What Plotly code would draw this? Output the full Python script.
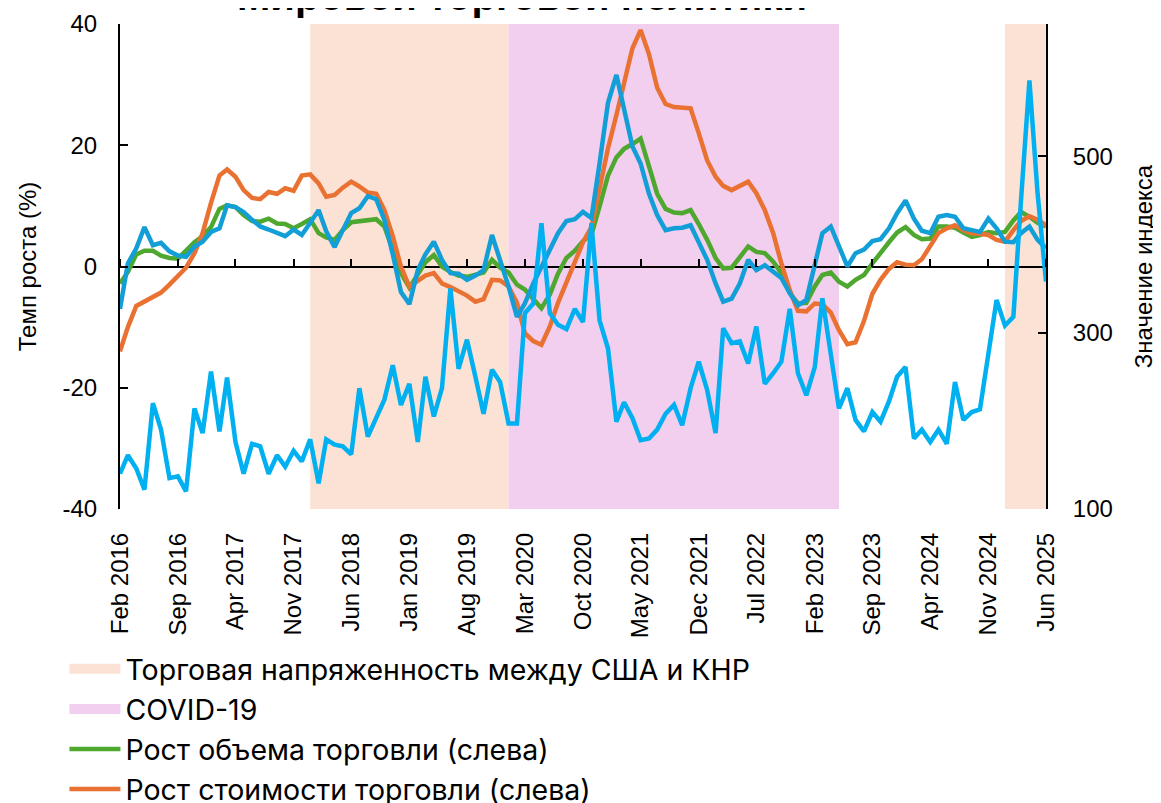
import pandas as pd
import plotly.graph_objects as go

# monthly, Feb 2016 .. Jun 2025
months = pd.date_range("2016-02-01", "2025-06-01", freq="MS")

# trade volume growth, % (left axis)
volume_growth = [
    -2.8, -0.9, 2.0, 2.6, 2.6, 1.8, 1.4, 1.3, 2.6, 4.0,
    5.0, 6.5, 9.5, 10.1, 9.8, 8.5, 7.5, 7.4, 7.9, 7.1,
    7.0, 6.3, 7.0, 7.8, 5.5, 4.8, 4.4, 6.0, 7.3, 7.5,
    7.6, 7.8, 6.6, 2.7, -1.1, -3.5, -1.2, 0.7, 1.9, 0.0,
    -0.9, -1.5, -1.7, -1.4, -1.0, 1.1, -0.2, -1.0, -3.0, -3.8,
    -5.5, -6.9, -4.6, -1.2, 1.4, 2.6, 4.2, 5.2, 9.9, 15.0,
    18.0, 19.4, 20.2, 21.1, 16.5, 12.0, 9.5, 8.9, 8.8, 9.3,
    7.0, 4.4, 1.4, -0.3, -0.2, 1.5, 3.3, 2.4, 2.2, 0.8,
    -1.1, -4.4, -6.1, -6.0, -3.3, -1.4, -1.0, -2.5, -3.3, -2.2,
    -1.4, 0.5, 2.3, 4.0, 5.6, 6.5, 5.2, 4.5, 4.6, 6.6,
    6.6, 6.4, 5.6, 4.9, 5.2, 5.7, 5.5, 5.7, 7.6, 9.0,
    8.2, 7.2, 6.6,
]

# trade value growth, % (left axis)
value_growth = [
    -14.0, -10.0, -6.5, -5.8, -5.2, -4.3, -3.0, -1.7, -0.2, 2.2,
    5.5, 10.5, 15.0, 16.0, 14.8, 12.6, 11.3, 11.1, 12.3, 12.0,
    12.9, 12.5, 15.0, 15.2, 13.7, 11.5, 11.8, 13.0, 14.0, 13.2,
    12.2, 12.0, 9.3, 5.0, 0.0, -3.3, -2.4, -1.5, -1.1, -2.8,
    -3.4, -4.1, -4.8, -5.8, -5.4, -2.2, -2.3, -3.3, -6.0, -11.0,
    -12.3, -12.9, -9.9, -6.0, -2.5, 1.0, 4.0, 6.5, 13.0, 19.5,
    25.0, 30.5, 36.0, 39.0, 35.0, 29.5, 26.8, 26.3, 26.2, 26.1,
    22.0, 17.5, 14.8, 13.3, 12.6, 13.3, 14.0, 12.1, 9.3, 5.5,
    0.5, -3.9, -7.3, -7.4, -6.1, -6.2, -7.6, -10.5, -12.8, -12.5,
    -9.0, -4.5, -2.2, -0.4, 0.7, 0.3, 0.2, 1.2, 3.5, 5.5,
    6.3, 6.8, 6.0, 5.5, 5.4, 5.2, 4.4, 4.1, 6.0, 7.5,
    8.3, 7.7, 6.8,
]

# third growth series, % (left axis)
blue_growth = [
    -7.0, 0.5, 3.0, 6.5, 3.5, 3.9, 2.5, 1.8, 1.6, 3.3,
    4.1, 5.7, 6.3, 10.1, 9.8, 9.0, 7.7, 6.6, 6.1, 5.5,
    5.0, 6.1, 5.2, 7.2, 9.3, 5.8, 3.2, 6.0, 8.8, 9.6,
    11.6, 11.1, 7.7, 2.0, -4.2, -6.2, -0.6, 2.0, 4.1, 1.1,
    -1.1, -1.2, -2.2, -1.5, -0.6, 5.2, 1.0, -3.3, -8.3, -6.1,
    -2.8, 0.0, 3.0, 5.5, 7.5, 7.8, 9.0, 8.0, 17.0, 27.0,
    31.6, 25.8, 19.8, 17.0, 12.0, 8.5, 6.0, 6.3, 6.4, 6.8,
    4.0, 1.1, -2.8, -5.8, -5.3, -2.8, 1.1, -0.6, 0.2, -0.9,
    -1.9, -4.4, -6.4, -5.5, 0.0, 5.5, 6.6, 3.3, 0.0, 2.2,
    2.8, 4.2, 4.5, 6.3, 8.8, 10.9, 7.9, 5.9, 5.5, 8.2,
    8.5, 8.2, 6.3, 6.0, 5.7, 7.9, 6.3, 4.1, 4.0, 5.5,
    6.6, 4.4, 3.0,
]

# index value (right axis)
index_value = [
    140, 161, 146, 122, 220, 190, 135, 137, 120, 214,
    186, 256, 188, 249, 176, 140, 174, 171, 140, 161,
    148, 166, 154, 179, 129, 179, 173, 171, 162, 237,
    182, 203, 224, 263, 218, 242, 176, 250, 205, 237,
    350, 259, 292, 250, 208, 258, 244, 197, 197, 322,
    333, 424, 322, 309, 304, 327, 312, 424, 314, 282,
    199, 221, 203, 178, 180, 190, 208, 218, 195, 237,
    267, 235, 186, 305, 288, 290, 265, 307, 242, 254,
    267, 327, 254, 229, 261, 339, 276, 214, 237, 201,
    188, 210, 199, 222, 250, 261, 180, 190, 176, 190,
    174, 244, 201, 210, 213, 276, 337, 308, 318, 450,
    586, 458, 358,
]

tension_periods = [("2018-01-01", "2020-01-01"), ("2025-01-01", "2025-06-01")]
covid_periods = [("2020-01-01", "2023-05-01")]

left_ticks = [-40, -20, 0, 20, 40]
left_ticktext = ["-40", "-20", "0", "20", "40"]

TENSION = "#FBE2D5"
COVID = "#F2CEEF"
GREEN = "#4EA72E"
ORANGE = "#E97132"
BLUE = "#129ED6"
CYAN = "#00B0F0"
TICK_FONT = dict(family="Liberation Sans, Arial", size=24, color="black")

fig = go.Figure()

for periods, color in [(tension_periods, TENSION), (covid_periods, COVID)]:
    for start, end in periods:
        fig.add_vrect(x0=start, x1=end, fillcolor=color, line_width=0, layer="below")

# legend entries for the shaded periods
fig.add_trace(go.Scatter(x=[None], y=[None], mode="lines", name="Торговая напряженность между США и КНР",
                         line=dict(color=TENSION, width=17)))
fig.add_trace(go.Scatter(x=[None], y=[None], mode="lines", name="COVID-19",
                         line=dict(color=COVID, width=17)))

fig.add_trace(go.Scatter(x=months, y=volume_growth, mode="lines", name="Рост объема торговли (слева)",
                         line=dict(color=GREEN, width=4.5)))
fig.add_trace(go.Scatter(x=months, y=value_growth, mode="lines", name="Рост стоимости торговли (слева)",
                         line=dict(color=ORANGE, width=4.5)))
fig.add_trace(go.Scatter(x=months, y=blue_growth, mode="lines", showlegend=False,
                         line=dict(color=BLUE, width=4.5)))
fig.add_trace(go.Scatter(x=months, y=index_value, mode="lines", yaxis="y2", showlegend=False,
                         line=dict(color=CYAN, width=4.5)))
# carrier for the tick marks drawn on the zero line
fig.add_trace(go.Scatter(x=[months[0]], y=[None], xaxis="x2", showlegend=False, hoverinfo="skip"))

x_range = [months[0], months[-1]]
fig.update_layout(
    width=1161,
    height=803,
    paper_bgcolor="white",
    plot_bgcolor="white",
    # page body adds 8px offset, margins compensate for it
    margin=dict(l=112, r=123, t=16, b=302, autoexpand=False),
    showlegend=True,
    legend=dict(
        x=-0.060, y=-0.278, xanchor="left", yanchor="top",
        font=dict(family="Inter", size=28.5, color="black"),
        itemwidth=51, tracegroupgap=0, bgcolor="rgba(0,0,0,0)",
    ),
    xaxis=dict(
        type="date", range=x_range, tick0="2016-02-01", dtick="M7", tickformat="%b %Y",
        tickangle=-90, showgrid=False, showline=False, zeroline=False, ticks="",
        tickfont=TICK_FONT, ticklabelstandoff=18, automargin=False,
    ),
    xaxis2=dict(
        type="date", range=x_range, tick0="2016-02-01", dtick="M7", overlaying="x",
        anchor="free", position=0.5, side="top", ticks="outside", ticklen=8, tickwidth=2,
        tickcolor="black", showticklabels=False, showgrid=False, showline=False, zeroline=False,
        automargin=False,
    ),
    yaxis=dict(
        range=[-40, 40], tickvals=left_ticks, ticktext=left_ticktext, showgrid=False,
        zeroline=True, zerolinecolor="black", zerolinewidth=2, showline=True,
        linecolor="black", linewidth=2, ticks="inside", ticklen=8, tickwidth=2,
        tickcolor="black", tickfont=TICK_FONT, ticklabelstandoff=16, automargin=False,
        title=dict(text="Темп роста (%)", font=TICK_FONT, standoff=19),
    ),
    yaxis2=dict(
        range=[100, 650], tick0=100, dtick=200, overlaying="y", side="right", showgrid=False,
        zeroline=False, showline=True, linecolor="black", linewidth=2, ticks="inside",
        ticklen=8, tickwidth=2, tickcolor="black", tickfont=TICK_FONT, ticklabelstandoff=20,
        automargin=False, title=dict(text="Значение индекса", font=TICK_FONT, standoff=23),
    ),
    annotations=[dict(
        text="<b>Мировой торговой политики</b>", xref="paper", yref="paper", x=0.434, y=1.008,
        xanchor="center", yanchor="bottom", showarrow=False,
        font=dict(family="Liberation Sans, Arial", size=40, color="black"),
    )],
)

fig.write_html("out.html")
